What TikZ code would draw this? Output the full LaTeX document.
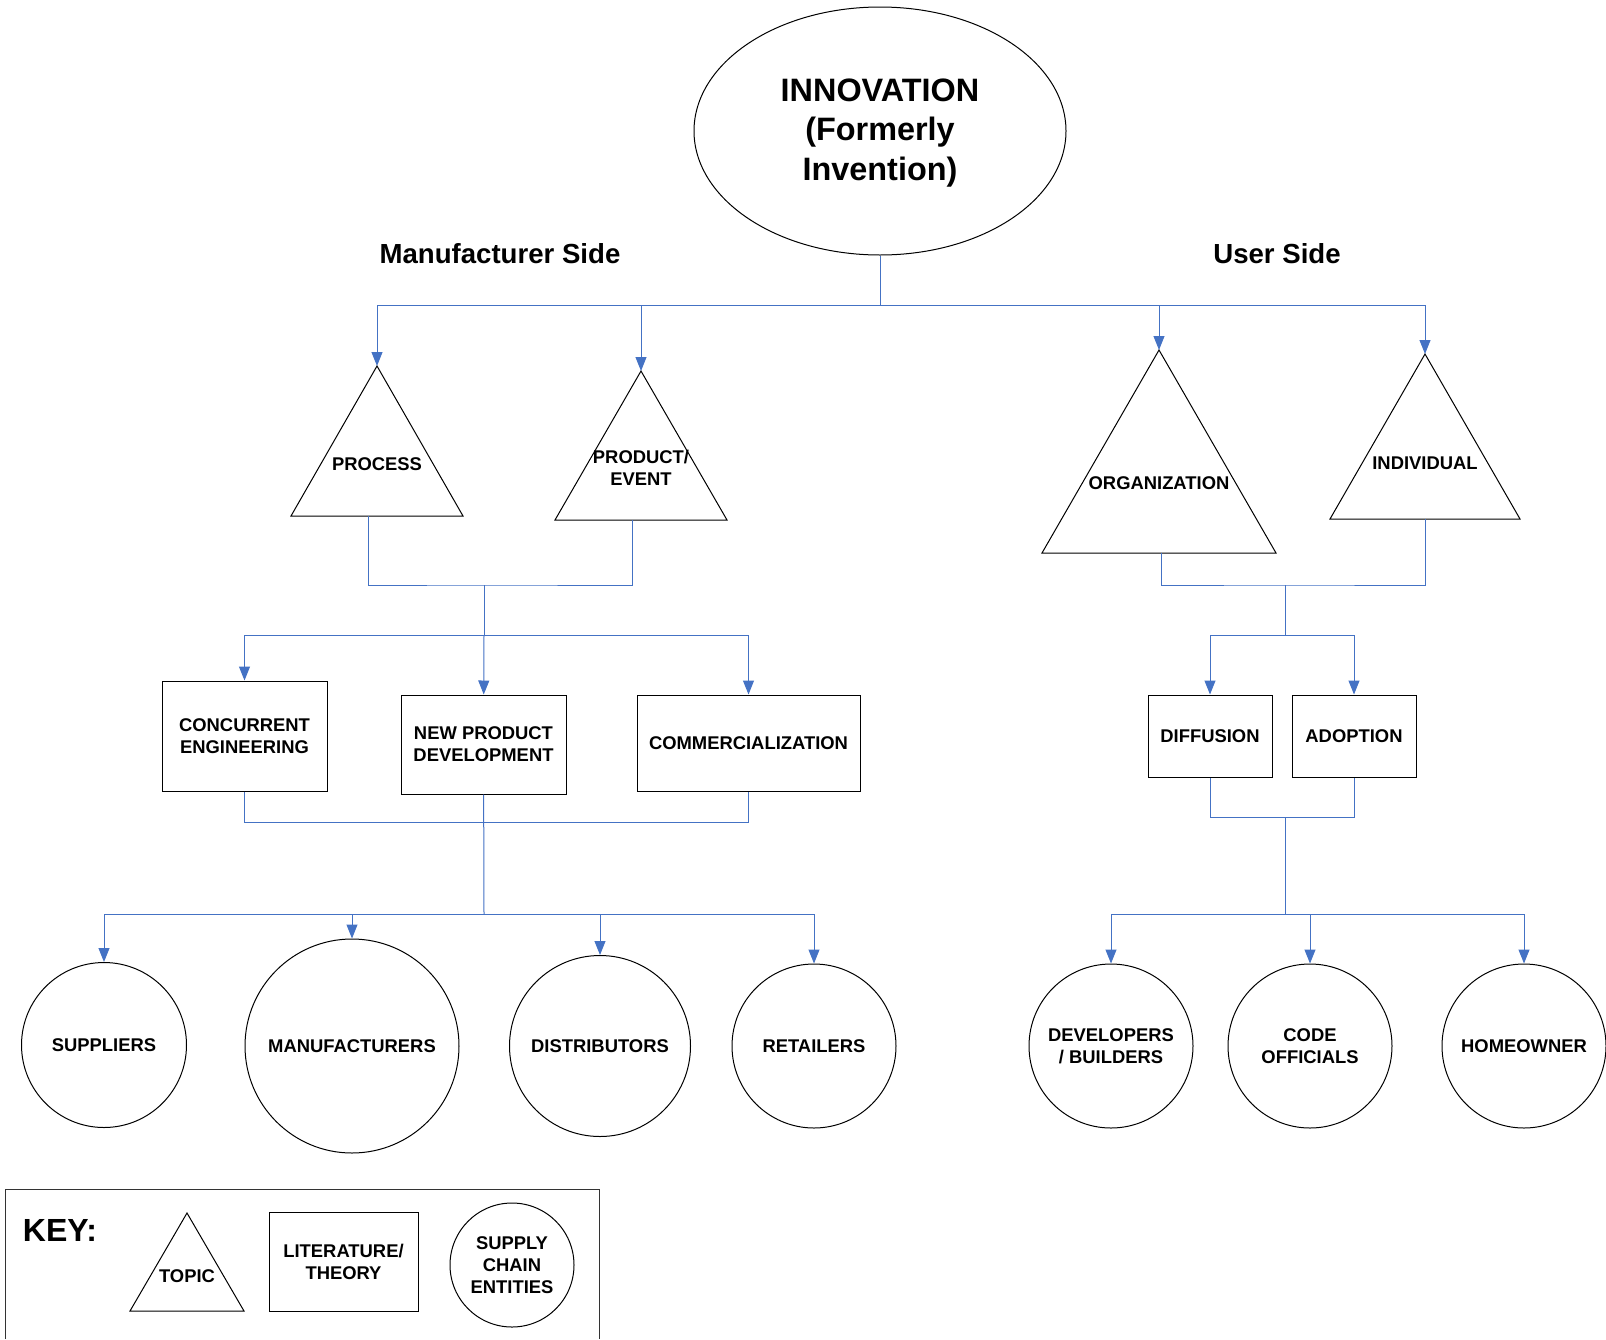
\documentclass[tikz,border=0pt]{standalone}
\usepackage{fontspec}
\setmainfont{Liberation Sans}
\usetikzlibrary{shapes.geometric, arrows.meta}
\definecolor{linkblue}{RGB}{68,114,196}

\begin{document}
\begin{tikzpicture}[x=0.5pt,y=0.5pt,yscale=-1,xscale=1,
  conn/.style={draw=linkblue,line width=0.5pt},
  arr/.style={conn,-{Triangle[length=7pt,width=5.5pt]}},
  lbl/.style={font=\fontsize{9.2}{11}\selectfont\bfseries,align=center,inner sep=0pt},
  ent/.style={lbl,draw,circle,line width=0.5pt},
  lit/.style={lbl,draw,rectangle,line width=0.5pt},
  topic/.style={draw,line width=0.5pt,line join=miter}]
\useasboundingbox (0,0) rectangle (1606,1339);

%Ellipse
\node [draw,ellipse,line width=0.5pt,minimum width=186pt,minimum height=124pt,inner sep=0pt] (innov) at (880,131) {};
% Text Node
\node [align=center,inner sep=0pt,font=\fontsize{16.2}{19.6}\selectfont\bfseries] (innovt) at (880,133) {INNOVATION\\(Formerly\\Invention)};

% Text Node
\node [font=\fontsize{13.8}{16}\selectfont\bfseries] (mside) at (500,254) {Manufacturer Side};
% Text Node
\node [font=\fontsize{13.8}{16}\selectfont\bfseries] (uside) at (1277,254) {User Side};

%Shape: Triangle
\coordinate (procA) at (377,366);
\draw [topic] (procA) -- (291,516) -- (463,516) -- cycle;
\node [lbl] (proc) at (377,464) {PROCESS};
%Shape: Triangle
\coordinate (prodA) at (641,371);
\draw [topic] (prodA) -- (555,520) -- (727,520) -- cycle;
\node [lbl] (prod) at (641,468) {PRODUCT/\\EVENT};
%Shape: Triangle
\coordinate (orgA) at (1159,350);
\draw [topic] (orgA) -- (1042,553) -- (1276,553) -- cycle;
\node [lbl] (org) at (1159,483) {ORGANIZATION};
%Shape: Triangle
\coordinate (indA) at (1425,354);
\draw [topic] (indA) -- (1330,519) -- (1520,519) -- cycle;
\node [lbl] (ind) at (1425,463) {INDIVIDUAL};

%Shape: Rectangle
\node [lit,minimum width=82.5pt,minimum height=55pt] (conc) at (244.5,736) {CONCURRENT\\ENGINEERING};
\node [lit,minimum width=82.5pt,minimum height=49.5pt] (npd) at (483.5,744.5) {NEW PRODUCT\\DEVELOPMENT};
\node [lit,minimum width=111.5pt,minimum height=48pt] (comm) at (748.5,743) {COMMERCIALIZATION};
\node [lit,minimum width=62pt,minimum height=41pt] (diff) at (1210,736) {DIFFUSION};
\node [lit,minimum width=62pt,minimum height=41pt] (adop) at (1354,736) {ADOPTION};

%Shape: Circle
\node [ent,minimum size=82.5pt] (sup) at (104,1045) {SUPPLIERS};
\node [ent,minimum size=107pt] (man) at (352,1046) {MANUFACTURERS};
\node [ent,minimum size=90.5pt] (dist) at (600,1046) {DISTRIBUTORS};
\node [ent,minimum size=82pt] (ret) at (814,1046) {RETAILERS};
\node [ent,minimum size=82pt] (dev) at (1111,1046) {DEVELOPERS\\/ BUILDERS};
\node [ent,minimum size=82pt] (code) at (1310,1046) {CODE\\OFFICIALS};
\node [ent,minimum size=82pt] (home) at (1524,1046) {HOMEOWNER};

%Connectors: top
\coordinate (t1) at (880,305);
\draw [conn] (innov.south) -- (t1);
\draw [arr] (t1) -| (procA);
\draw [arr] (t1) -| (prodA);
\draw [arr] (t1) -| (orgA);
\draw [arr] (t1) -| (indA);

%Connectors: manufacturer side
\coordinate (procB) at (368,516);
\coordinate (prodB) at (632,520);
\coordinate (j1) at (484,585);
\coordinate (j2) at (484,635);
\draw [conn] (procB) |- (j1) -| (prodB);
\draw [conn] (j1) -- (j2);
\draw [arr] (j2) -| (conc);
\draw [arr] (j2) -- (npd);
\draw [arr] (j2) -| (comm);
\coordinate (j3) at (484,822);
\coordinate (j4) at (484,914);
\draw [conn] (conc) |- (j3) -| (comm);
\draw [conn] (npd) -- (j4);
\draw [arr] (j4) -| (sup);
\draw [arr] (j4) -| (man);
\draw [arr] (j4) -| (dist);
\draw [arr] (j4) -| (ret);

%Connectors: user side
\coordinate (orgB) at (1161,553);
\coordinate (indB) at (1425,519);
\coordinate (j5) at (1285,585);
\coordinate (j6) at (1285,635);
\draw [conn] (orgB) |- (j5) -| (indB);
\draw [conn] (j5) -- (j6);
\draw [arr] (j6) -| (diff);
\draw [arr] (j6) -| (adop);
\coordinate (j7) at (1285,817);
\coordinate (j8) at (1285,914);
\draw [conn] (diff) |- (j7) -| (adop);
\draw [conn] (j7) -- (j8);
\draw [arr] (j8) -| (dev);
\draw [arr] (j8) -| (code);
\draw [arr] (j8) -| (home);

%Key
\draw [line width=0.5pt,draw=black!80] (5,1339) |- (599,1189) -- (599,1339);
\node [font=\fontsize{16}{19}\selectfont\bfseries] (key) at (60,1230) {KEY:};
\coordinate (keyA) at (187,1213);
\draw [topic] (keyA) -- (130,1311) -- (244,1311) -- cycle;
\node [lbl] (ktopic) at (187,1276) {TOPIC};
\node [lit,minimum width=74.5pt,minimum height=49.5pt] (klit) at (343.5,1261.5) {LITERATURE/\\THEORY};
\node [ent,minimum size=62pt] (kent) at (512,1265) {SUPPLY\\CHAIN\\ENTITIES};

\end{tikzpicture}
\end{document}
